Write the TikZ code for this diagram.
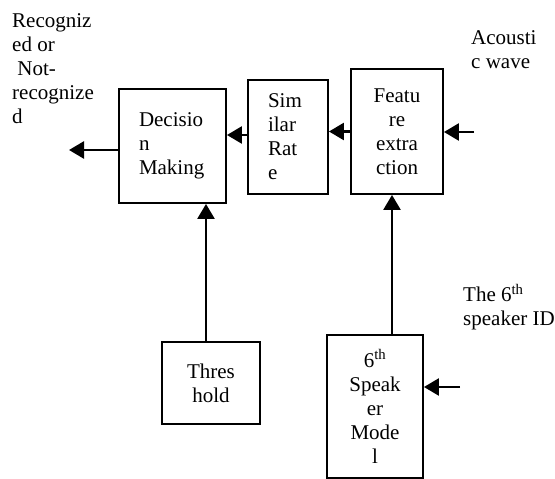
\documentclass[tikz,border=0pt]{standalone}
\usepackage{fontspec}
\setmainfont{Liberation Serif}
\usetikzlibrary{positioning, arrows.meta, calc}

\tikzset{
  blk/.style={draw, line width=1.9pt, inner sep=0pt, align=center,
    font=\fontsize{21}{24}\selectfont},
  lbl/.style={inner sep=0pt, align=left, anchor=north west,
    font=\fontsize{21}{24}\selectfont},
  arr/.style={line width=2.6pt, -{Triangle[length=15pt,width=17pt]}}
}

\begin{document}
\begin{tikzpicture}[x=1pt,y=-1pt]
\useasboundingbox (0,0) rectangle (555,479);
% blocks
\node[blk, minimum width=107pt, minimum height=114pt, text width=67pt, align=left] (dec) at (172.5,146) {Decisio\\n\\Making};
\node[blk, minimum width=80pt, minimum height=114pt, text width=40pt, align=left] (sim) at (288,137) {Sim\\ilar\\Rat\\e};
\node[blk, minimum width=92pt, minimum height=125pt] (fea) at (397,131.5) {Featu\\re\\extra\\ction};
\node[blk, minimum width=98pt, minimum height=82pt] (thr) at (211,383) {Thres\\hold};
\node[blk, minimum width=96pt, minimum height=143pt] (spk) at (375,406.5) {6\textsuperscript{th}\\Speak\\er\\Mode\\l};
% labels
\node[lbl] (res) at (12,13) {Recogniz\\ed or\\\ Not-\\recognize\\d};
\node[lbl] (aco) at (471,30) {Acousti\\c wave};
\node[lbl] (sid) at (463,284) {The 6\textsuperscript{th}\\speaker ID};
% free ends
\coordinate (out) at (69,150);
\coordinate (acin) at (474,132);
\coordinate (idin) at (460,387);
% connectors
\draw[arr] (acin) -- (acin -| fea.east);
\draw[arr] (fea.west) -- (fea.west -| sim.east);
\draw[arr] ([yshift=2pt]sim.west) -- ([yshift=2pt]sim.west -| dec.east);
\draw[arr] (out -| dec.west) -- (out);
\draw[arr] ([xshift=-5pt]thr.north) -- ([xshift=-5pt]thr.north |- dec.south);
\draw[arr] ([xshift=17pt]spk.north) -- ([xshift=17pt]spk.north |- fea.south);
\draw[arr] (idin) -- (idin -| spk.east);
\end{tikzpicture}
\end{document}
